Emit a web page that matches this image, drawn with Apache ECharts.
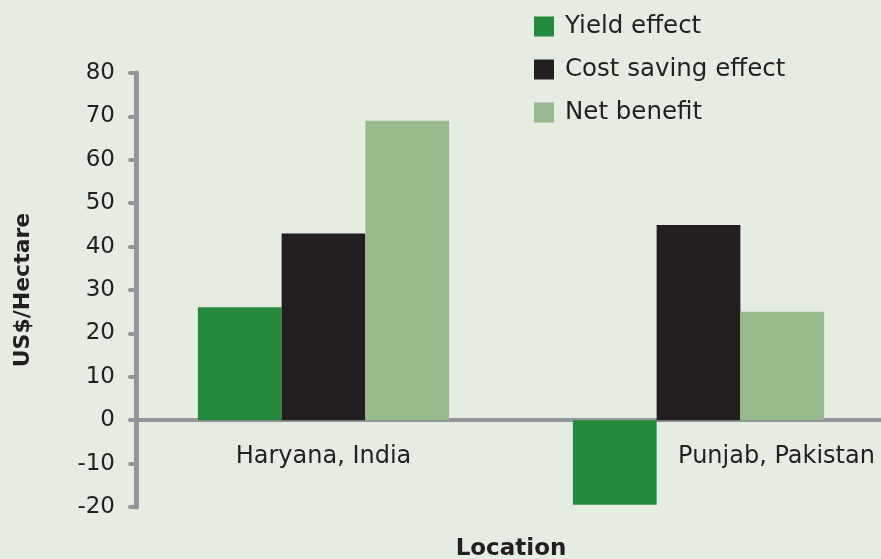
<!DOCTYPE html>
<html>
<head>
<meta charset="utf-8">
<script src="https://cdn.jsdelivr.net/npm/echarts@6/dist/echarts.min.js"></script>
<style>
  html, body { margin: 0; padding: 0; background: #e5ede3; }
  #chart { width: 881px; height: 559px; }
</style>
</head>
<body>
<div id="chart"></div>
<script>
// locations on the x axis
var locations = ['Haryana, India', 'Punjab, Pakistan'];
// US$/hectare values
var yieldEffect = [26, -19.5];
var costSaving = [43, 45];
var netBenefit = [69, 25];
var seriesNames = ['Yield effect', 'Cost saving effect', 'Net benefit'];

var font = 'DejaVu Sans';
var myChart = echarts.init(document.getElementById('chart'));

var option = {
    backgroundColor: '#e5ede3',
    animation: false,
    grid: { left: 136, right: -5, top: 73, bottom: 52, containLabel: false, outerBoundsMode: 'none' },
    legend: {
        orient: 'vertical',
        left: 534,
        top: 14,
        padding: 0,
        itemWidth: 20,
        itemHeight: 20,
        itemGap: 18,
        icon: 'rect',
        textStyle: { fontFamily: font, fontSize: 24.5, color: '#231f20', padding: [0, 0, 0, 6] },
        data: seriesNames
    },
    xAxis: {
        type: 'category',
        data: [
            locations[0],
            // the reference pushes this label right of the negative bar
            { value: locations[1], textStyle: { padding: [0, 0, 0, 156] } }
        ],
        name: 'Location',
        nameLocation: 'middle',
        nameGap: 31,
        nameTextStyle: { fontFamily: font, fontSize: 23, fontWeight: 'bold', color: '#231f20' },
        axisLine: { onZero: true, lineStyle: { color: '#939598', width: 4 } },
        axisTick: { show: false },
        axisLabel: { fontFamily: font, fontSize: 24, color: '#231f20', margin: -62 }
    },
    yAxis: {
        type: 'value',
        min: -20,
        max: 80,
        interval: 10,
        name: 'US$/Hectare',
        nameLocation: 'middle',
        nameGap: 102,
        nameTextStyle: { fontFamily: font, fontSize: 22, fontWeight: 'bold', color: '#231f20' },
        axisLine: { show: true, lineStyle: { color: '#939598', width: 5, cap: 'round' } },
        axisTick: { show: true, length: 6, lineStyle: { color: '#939598', width: 4, cap: 'round' } },
        axisLabel: { fontFamily: font, fontSize: 23, color: '#231f20', margin: 21 },
        splitLine: { show: false }
    },
    series: [
        {
            name: seriesNames[0], type: 'bar', data: yieldEffect,
            barGap: '0%', barCategoryGap: '33%',
            itemStyle: { color: '#268a3e' }
        },
        {
            name: seriesNames[1], type: 'bar', data: costSaving,
            itemStyle: { color: '#231f20' }
        },
        {
            name: seriesNames[2], type: 'bar', data: netBenefit,
            itemStyle: { color: '#97b98c' }
        }
    ]
};
myChart.setOption(option);
</script>
</body>
</html>
